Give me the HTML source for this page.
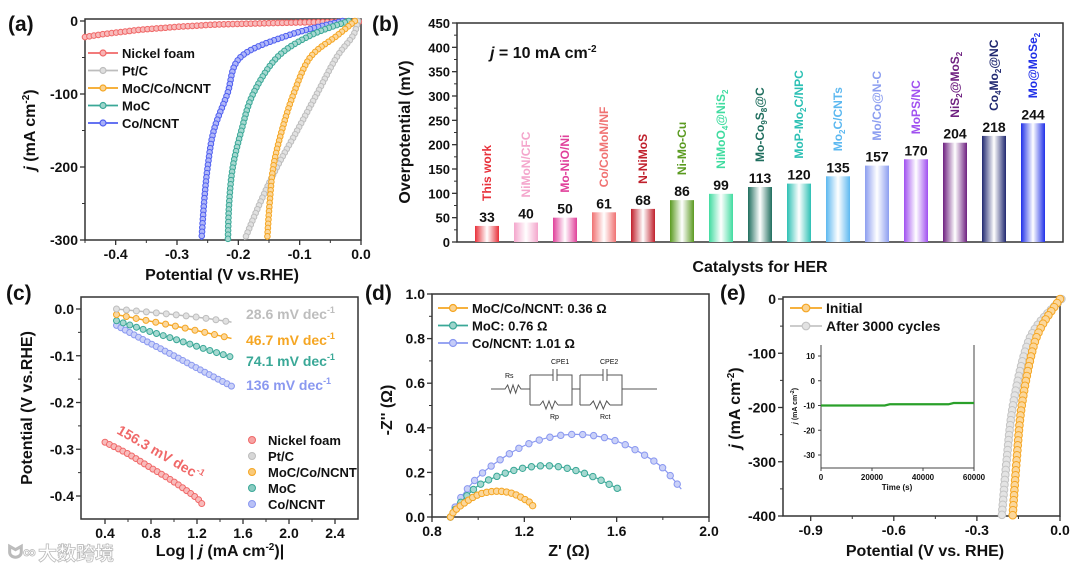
<!DOCTYPE html>
<html><head><meta charset="utf-8"><style>
html,body{margin:0;padding:0;background:#fff;}
svg{display:block;font-family:"Liberation Sans",Arial,sans-serif;font-weight:bold;}
</style></head><body>
<svg id="fig" width="1080" height="573" viewBox="0 0 1080 573" xmlns="http://www.w3.org/2000/svg">
<defs id="defs"></defs>
<text x="38" y="560" font-size="19" fill="#fff" stroke="#bbb" stroke-width="0.8" font-family="'Liberation Sans','Noto Sans CJK SC',sans-serif">大数跨境</text>
<text x="8" y="558" font-size="18" fill="#fff" stroke="#bbb" stroke-width="0.8">ᗢ∞</text>
</svg>
<script>
// ---------- data ----------
// (a) LSV
const aJ = [0,-20,-50,-100,-150,-200,-250,-300];
const aPt = [-0.005,-0.013,-0.04,-0.072,-0.104,-0.137,-0.165,-0.19];
const aMoCCo = [-0.01,-0.039,-0.083,-0.11,-0.129,-0.143,-0.149,-0.153];
const aMoC = [-0.02,-0.083,-0.137,-0.176,-0.195,-0.209,-0.215,-0.217];
const aCo = [-0.03,-0.12,-0.197,-0.218,-0.24,-0.25,-0.256,-0.26];
const aNfV = [-0.45,-0.42,-0.39,-0.36,-0.33,-0.3,-0.27,-0.24,-0.2,-0.15,-0.1,-0.05,0];
const aNfJ = [-22,-18,-15,-12,-10,-8,-6.5,-5,-4,-3,-2,-1.5,-1];
// (b) bars
const bNames = ["This work","NiMoN/CFC","Mo-NiO/Ni","Co/CoMoN/NF","N-NiMoS","Ni-Mo-Cu","NiMoO4@NiS2","Mo-Co9S8@C","MoP-Mo2C/NPC","Mo2C/CNTs","Mo/Co@N-C","MoPS/NC","NiS2@MoS2","Co4Mo2@NC","Mo@MoSe2"];
const bValues = [33,40,50,61,68,86,99,113,120,135,157,170,204,218,244];
const bTicks = [0,50,100,150,200,250,300,350,400,450];
// (c) Tafel
const cX = [0.5,0.75,1.0,1.25,1.5];
const cPt = [0.0,-0.006,-0.012,-0.019,-0.028];
const cMoCCo = [-0.012,-0.024,-0.036,-0.049,-0.063];
const cMoC = [-0.025,-0.045,-0.064,-0.084,-0.103];
const cCo = [-0.035,-0.068,-0.1,-0.133,-0.165];
const cNfX = [0.4,0.6,0.8,1.0,1.2,1.25];
const cNfY = [-0.285,-0.31,-0.34,-0.37,-0.405,-0.42];
const cSlopes = ["28.6","46.7","74.1","136"];
// (d) Nyquist
const dOrX = [0.88,0.9,0.95,1.0,1.05,1.1,1.15,1.2,1.23,1.24];
const dOrY = [0,0.03,0.07,0.1,0.113,0.115,0.105,0.08,0.06,0.04];
const dTeX = [0.88,0.92,1.0,1.1,1.2,1.3,1.4,1.5,1.58,1.62];
const dTeY = [0,0.06,0.14,0.19,0.22,0.23,0.215,0.18,0.14,0.12];
const dBlX = [0.88,0.92,1.0,1.1,1.2,1.3,1.4,1.5,1.6,1.7,1.8,1.88];
const dBlY = [0,0.08,0.18,0.26,0.32,0.355,0.37,0.365,0.34,0.29,0.22,0.125];
// (e) stability
const eJ = [0,-50,-100,-200,-300,-400];
const eInit = [0,-0.066,-0.102,-0.139,-0.157,-0.171];
const eAfter = [0.005,-0.084,-0.128,-0.171,-0.193,-0.21];
const eT = [0,10000,20000,25000,27000,40000,50000,52000,60000];
const eIj = [-10,-10,-10,-10,-9.5,-9.5,-9.5,-9,-9];

// ---------- helpers ----------
const NS="http://www.w3.org/2000/svg";
const svg=document.getElementById('fig');
const defs=document.getElementById('defs');
function el(tag,attrs,name,parent){
  const e=document.createElementNS(NS,tag);
  for(const k in attrs) e.setAttribute(k,attrs[k]);
  
  
  (parent||svg).appendChild(e);
  return e;
}
function tx(str,x,y,size,attrs,name,parent){
  const a=Object.assign({x:x,y:y,'font-size':size,fill:'#111'},attrs||{});
  const e=el('text',a,name,parent);
  e.textContent=str;
  return e;
}
function lin(d0,d1,r0,r1){return v=>r0+(v-d0)*(r1-r0)/(d1-d0);}
function lighten(c,f){const n=parseInt(c.slice(1),16);let r=n>>16,g=(n>>8)&255,b=n&255;r=Math.round(r+(255-r)*f);g=Math.round(g+(255-g)*f);b=Math.round(b+(255-b)*f);return `rgb(${r},${g},${b})`;}
function smoothPath(P){
  let d=`M${P[0][0]},${P[0][1]}`;
  for(let i=0;i<P.length-1;i++){
    const p0=P[i-1]||P[i],p1=P[i],p2=P[i+1],p3=P[i+2]||p2;
    const c1=[p1[0]+(p2[0]-p0[0])/6,p1[1]+(p2[1]-p0[1])/6];
    const c2=[p2[0]-(p3[0]-p1[0])/6,p2[1]-(p3[1]-p1[1])/6];
    d+=` C${c1[0]},${c1[1]} ${c2[0]},${c2[1]} ${p2[0]},${p2[1]}`;
  }
  return d;
}
function axes(p,prefix){
  el('rect',{x:p.x0,y:p.y0,width:p.x1-p.x0,height:p.y1-p.y0,fill:'none',stroke:'#333','stroke-width':1.5},prefix+'-frame');
  p.xt.forEach(v=>{const x=p.xs(v);
    el('line',{x1:x,x2:x,y1:p.y1,y2:p.y1+5,stroke:'#333','stroke-width':1.3},prefix+'-x-tick');
    tx(p.xf(v),x,p.y1+19,p.fs||14,{'text-anchor':'middle'},prefix+'-x-tick-label');});
  (p.xm||[]).forEach(v=>{const x=p.xs(v);
    el('line',{x1:x,x2:x,y1:p.y1,y2:p.y1+3,stroke:'#333','stroke-width':1},prefix+'-x-minor-tick');});
  p.yt.forEach(v=>{const y=p.ys(v);
    el('line',{x1:p.x0-5,x2:p.x0,y1:y,y2:y,stroke:'#333','stroke-width':1.3},prefix+'-y-tick');
    tx(p.yf(v),p.x0-7,y+5,p.fs||14,{'text-anchor':'end'},prefix+'-y-tick-label');});
  (p.ym||[]).forEach(v=>{const y=p.ys(v);
    el('line',{x1:p.x0-3,x2:p.x0,y1:y,y2:y,stroke:'#333','stroke-width':1},prefix+'-y-minor-tick');});
}
function series(xs,ys,X,Y,color,name,opt){
  opt=opt||{};
  const g=el('g',{},name);
  const P=X.map((v,i)=>[xs(v),ys(Y[i])]);
  const pl=el('path',{d:opt.straight?('M'+P.map(p=>p.join(',')).join(' L')):smoothPath(P),fill:'none',stroke:color,'stroke-width':opt.lw||1.5},name+'-line',g);
  if(opt.markers!==false){
    const L=pl.getTotalLength(); const step=opt.step||5.5; const r=opt.r||2.8;
    for(let d=0;d<=L+0.01;d+=step){const q=pl.getPointAtLength(Math.min(d,L));
      el('circle',{cx:q.x,cy:q.y,r:r,fill:lighten(color,0.55),stroke:color,'stroke-width':1},name+'-marker',g);}
  }
  return g;
}
function legendEntry(x,y,color,label,name,len,r,fs){
  const g=el('g',{},name);
  el('line',{x1:x,x2:x+len,y1:y,y2:y,stroke:color,'stroke-width':1.8},name+'-line',g);
  el('circle',{cx:x+len/2,cy:y,r:r||3.5,fill:lighten(color,0.5),stroke:color,'stroke-width':1.2},name+'-marker',g);
  tx(label,x+len+4,y+5,fs||13,{},name+'-label',g);
}
function panelLabel(s,x,y,name){tx(s,x,y,21,{},name);}

// ---------- panel (a) ----------
(function(){
  const xs=lin(-0.45,0,85,361), ys=lin(0,-300,21,240);
  axes({x0:85,x1:361,y0:19,y1:240,xs,ys,xt:[-0.4,-0.3,-0.2,-0.1,0.0],xm:[-0.45,-0.35,-0.25,-0.15,-0.05],
    yt:[0,-100,-200,-300],ym:[-50,-150,-250],xf:v=>v.toFixed(1),yf:v=>String(v)},'a');
  const C={nf:'#f06868',pt:'#bdbdbd',mo:'#f5a623',moc:'#3aa897',co:'#4f5ff0'};
  series(xs,ys,aNfV,aNfJ,C.nf,'a-series-nickel-foam',{step:4.5});
  series(xs,ys,aCo,aJ,C.co,'a-series-co-ncnt',{step:4.2});
  series(xs,ys,aMoC,aJ,C.moc,'a-series-moc',{step:4.2});
  series(xs,ys,aPt,aJ,C.pt,'a-series-pt-c',{step:4.2});
  series(xs,ys,aMoCCo,aJ,C.mo,'a-series-moc-co-ncnt',{step:4.2});
  const lg=[['Nickel foam',C.nf],['Pt/C',C.pt],['MoC/Co/NCNT',C.mo],['MoC',C.moc],['Co/NCNT',C.co]];
  lg.forEach((e,i)=>legendEntry(88,53+i*17.5,e[1],e[0],'a-legend-entry',30,3,13));
  const t=tx('',35,130,16,{'text-anchor':'middle',transform:'rotate(-90 35 130)'},'a-y-axis-title');
  t.innerHTML='<tspan font-style="italic">j</tspan> (mA cm<tspan dy="-6" font-size="10">-2</tspan><tspan dy="6">)</tspan>';
  tx('Potential (V vs.RHE)',222,280,16,{'text-anchor':'middle'},'a-x-axis-title');
  panelLabel('(a)',8,31,'panel-label-a');
})();

// ---------- panel (b) ----------
(function(){
  const ys=lin(0,450,242,23);
  const step=39, x0=487, bw=24;
  axes({x0:457,x1:1063,y0:23,y1:242,xs:v=>v,ys,xt:[],yt:bTicks,ym:[25,75,125,175,225,275,325,375,425],xf:v=>'',yf:v=>String(v),fs:13},'b');
  const colors=['#e8303a','#f4a6cc','#e0409a','#f07272','#c0202c','#5a9a20','#40dca0','#1f6e5e','#2cc0b4','#5cb8f0','#8c9ef0','#a050f0','#6e2080','#202870','#2030e8'];
  const labelsHtml=['This work','NiMoN/CFC','Mo-NiO/Ni','Co/CoMoN/NF','N-NiMoS','Ni-Mo-Cu',
   'NiMoO<tspan font-size="8" dy="3">4</tspan><tspan dy="-3">@NiS</tspan><tspan font-size="8" dy="3">2</tspan>',
   'Mo-Co<tspan font-size="8" dy="3">9</tspan><tspan dy="-3">S</tspan><tspan font-size="8" dy="3">8</tspan><tspan dy="-3">@C</tspan>',
   'MoP-Mo<tspan font-size="8" dy="3">2</tspan><tspan dy="-3">C/NPC</tspan>',
   'Mo<tspan font-size="8" dy="3">2</tspan><tspan dy="-3">C/CNTs</tspan>','Mo/Co@N-C','MoPS/NC',
   'NiS<tspan font-size="8" dy="3">2</tspan><tspan dy="-3">@MoS</tspan><tspan font-size="8" dy="3">2</tspan>',
   'Co<tspan font-size="8" dy="3">4</tspan><tspan dy="-3">Mo</tspan><tspan font-size="8" dy="3">2</tspan><tspan dy="-3">@NC</tspan>',
   'Mo@MoSe<tspan font-size="8" dy="3">2</tspan>'];
  bValues.forEach((v,i)=>{
    const cx=x0+i*step, top=ys(v);
    const gid='bg'+i;
    const gr=el('linearGradient',{id:gid,x1:0,x2:1,y1:0,y2:0},'bar-gradient',defs);
    [[0,colors[i]],[0.5,'#ffffff'],[1,colors[i]]].forEach(s=>el('stop',{offset:s[0],'stop-color':s[1]},'gradient-stop',gr));
    el('rect',{x:cx-bw/2,y:top,width:bw,height:242-top,fill:'url(#'+gid+')'},'bar-'+bNames[i].toLowerCase().replace(/[^a-z0-9]+/g,'-'));
    tx(String(v),cx,top-4,14,{'text-anchor':'middle'},'bar-value-label');
    const ly=top-25;
    const t=tx('',cx+4,ly,12,{fill:colors[i],transform:`rotate(-90 ${cx+4} ${ly})`},'bar-category-label');
    t.innerHTML=labelsHtml[i];
  });
  const t=tx('',490,58,16,{},'b-annotation');
  t.innerHTML='<tspan font-style="italic">j</tspan> = 10 mA cm<tspan dy="-6" font-size="10">-2</tspan>';
  tx('Overpotential (mV)',410,132,16,{'text-anchor':'middle',transform:'rotate(-90 410 132)'},'b-y-axis-title');
  tx('Catalysts for HER',760,272,16,{'text-anchor':'middle'},'b-x-axis-title');
  panelLabel('(b)',372,31,'panel-label-b');
})();

// ---------- panel (c) ----------
(function(){
  const xs=lin(0.4,2.4,105,335), ys=lin(0,-0.4,309,496);
  axes({x0:81,x1:358,y0:297,y1:519,xs,ys,xt:[0.4,0.8,1.2,1.6,2.0,2.4],xm:[0.6,1.0,1.4,1.8,2.2],
    yt:[0,-0.1,-0.2,-0.3,-0.4],ym:[-0.05,-0.15,-0.25,-0.35],xf:v=>v.toFixed(1),yf:v=>v.toFixed(1)},'c');
  const C={nf:'#f06868',pt:'#bdbdbd',mo:'#f5a623',moc:'#3aa897',co:'#8a98f0'};
  series(xs,ys,cNfX,cNfY,C.nf,'c-series-nickel-foam',{step:5,r:3});
  series(xs,ys,cX,cCo,C.co,'c-series-co-ncnt',{step:5,r:3});
  series(xs,ys,cX,cMoC,C.moc,'c-series-moc',{step:7,r:3});
  series(xs,ys,cX,cMoCCo,C.mo,'c-series-moc-co-ncnt',{step:10,r:3});
  series(xs,ys,cX,cPt,C.pt,'c-series-pt-c',{step:10,r:3});
  const sc=[C.pt,C.mo,C.moc,C.co], sy=[319,345,366,390];
  cSlopes.forEach((s,i)=>{const t=tx('',246,sy[i],14,{fill:sc[i]},'c-slope-label');
    t.innerHTML=s+' mV dec<tspan dy="-6" font-size="9">-1</tspan>';});
  const t=tx('',116,433,14,{fill:C.nf,transform:'rotate(30 116 433)'},'c-slope-label-nickel-foam');
  t.innerHTML='156.3 mV dec<tspan dy="-6" font-size="9">-1</tspan>';
  const lg=[['Nickel foam',C.nf],['Pt/C',C.pt],['MoC/Co/NCNT',C.mo],['MoC',C.moc],['Co/NCNT',C.co]];
  lg.forEach((e,i)=>{const y=440+i*16;
    el('circle',{cx:252,cy:y,r:3.5,fill:lighten(e[1],0.4),stroke:e[1]},'c-legend-marker');
    tx(e[0],268,y+5,13,{},'c-legend-label');});
  tx('Potential (V vs.RHE)',32,408,16,{'text-anchor':'middle',transform:'rotate(-90 32 408)'},'c-y-axis-title');
  const xt=tx('',220,556,16,{'text-anchor':'middle'},'c-x-axis-title');
  xt.innerHTML='Log | <tspan font-style="italic">j</tspan> (mA cm<tspan dy="-6" font-size="10">-2</tspan><tspan dy="6">)|</tspan>';
  panelLabel('(c)',6,300,'panel-label-c');
})();

// ---------- panel (d) ----------
(function(){
  const xs=lin(0.8,2.0,432,709), ys=lin(0,1.0,517,294);
  axes({x0:432,x1:709,y0:294,y1:517,xs,ys,xt:[0.8,1.2,1.6,2.0],xm:[1.0,1.4,1.8],
    yt:[0,0.2,0.4,0.6,0.8,1.0],ym:[0.1,0.3,0.5,0.7,0.9],xf:v=>v.toFixed(1),yf:v=>v.toFixed(1)},'d');
  const C={mo:'#f5a623',moc:'#3aa897',co:'#8a98f0'};
  series(xs,ys,dBlX,dBlY,C.co,'d-series-co-ncnt',{step:11,r:3.2,lw:1.2});
  series(xs,ys,dTeX,dTeY,C.moc,'d-series-moc',{step:9,r:3.2,lw:1.2});
  series(xs,ys,dOrX,dOrY,C.mo,'d-series-moc-co-ncnt',{step:5,r:3.2,lw:1.2});
  const lg=[['MoC/Co/NCNT: 0.36 Ω',C.mo],['MoC: 0.76 Ω',C.moc],['Co/NCNT: 1.01 Ω',C.co]];
  lg.forEach((e,i)=>legendEntry(438,308+i*17.5,e[1],e[0],'d-legend-entry',30,3.5,13));
  const g=el('g',{stroke:'#555','stroke-width':1,fill:'none'},'d-equivalent-circuit');
  const zz=(x,y,w)=>`${x},${y} ${x+w/6},${y-4} ${x+w/3},${y+4} ${x+w/2},${y-4} ${x+2*w/3},${y+4} ${x+5*w/6},${y-4} ${x+w},${y}`;
  el('polyline',{points:`491,389 505,389 `+zz(505,389,16)+` 530,389`},'circuit-rs',g);
  el('polyline',{points:'530,375 530,405'},'circuit-wire',g);
  el('path',{d:'M530,375 H553 M557,375 H572 V405 H558 M530,405 H540'},'circuit-wire',g);
  el('path',{d:'M553,369 V381 M557,369 V381'},'circuit-cpe1',g);
  el('polyline',{points:zz(540,405,18)},'circuit-rp',g);
  el('path',{d:'M572,389 H580 M580,375 V405 M580,375 H603 M607,375 H622 V405 H610 M580,405 H590 M622,389 H657'},'circuit-wire',g);
  el('path',{d:'M603,369 V381 M607,369 V381'},'circuit-cpe2',g);
  el('polyline',{points:zz(590,405,20)},'circuit-rct',g);
  tx('CPE1',551,364,7,{'font-weight':'normal'},'circuit-label');
  tx('CPE2',600,364,7,{'font-weight':'normal'},'circuit-label');
  tx('Rs',505,378,7,{'font-weight':'normal'},'circuit-label');
  tx('Rp',550,419,7,{'font-weight':'normal'},'circuit-label');
  tx('Rct',600,419,7,{'font-weight':'normal'},'circuit-label');
  tx("-Z'' (Ω)",392,410,16,{'text-anchor':'middle',transform:'rotate(-90 392 410)'},'d-y-axis-title');
  tx("Z' (Ω)",569,556,16,{'text-anchor':'middle'},'d-x-axis-title');
  panelLabel('(d)',365,300,'panel-label-d');
})();

// ---------- panel (e) ----------
(function(){
  const xs=lin(-1.0,0,783,1060), ys=lin(0,-400,299,516);
  axes({x0:783,x1:1060,y0:297,y1:516,xs,ys,xt:[-0.9,-0.6,-0.3,0.0],xm:[-0.75,-0.45,-0.15],
    yt:[0,-100,-200,-300,-400],ym:[-50,-150,-250,-350],xf:v=>v.toFixed(1),yf:v=>String(v)},'e');
  series(xs,ys,eAfter,eJ,'#c4c4c4','e-series-after-3000-cycles',{step:5,r:3.8});
  series(xs,ys,eInit,eJ,'#f5a623','e-series-initial',{step:5,r:3.8});
  legendEntry(790,308,'#f5a623','Initial','e-legend-initial',32,3.8,14);
  legendEntry(790,326,'#c4c4c4','After 3000 cycles','e-legend-after-3000-cycles',32,3.8,14);
  const ixs=lin(0,60000,821,974), iys=lin(10,-30,356,455);
  el('path',{d:'M821,345 V468 H974 V345',fill:'none',stroke:'#444','stroke-width':1},'e-inset-frame');
  [0,20000,40000,60000].forEach(v=>{const x=ixs(v);
    el('line',{x1:x,x2:x,y1:468,y2:471,stroke:'#444'},'e-inset-x-tick');
    tx(String(v),x,480,8,{'text-anchor':'middle'},'e-inset-x-tick-label');});
  [10,0,-10,-20,-30].forEach(v=>{const y=iys(v);
    el('line',{x1:818,x2:821,y1:y,y2:y,stroke:'#444'},'e-inset-y-tick');
    tx(String(v),815,y+3,8,{'text-anchor':'end'},'e-inset-y-tick-label');});
  series(ixs,iys,eT,eIj,'#2aa02a','e-inset-series',{markers:false,lw:2.2,straight:true});
  tx('Time (s)',897,490,8,{'text-anchor':'middle'},'e-inset-x-axis-title');
  const it=tx('',797,406,7,{'text-anchor':'middle',transform:'rotate(-90 797 406)'},'e-inset-y-axis-title');
  it.innerHTML='<tspan font-style="italic">j</tspan> (mA cm<tspan dy="-3" font-size="5">-2</tspan><tspan dy="3">)</tspan>';
  const t=tx('',740,408,16,{'text-anchor':'middle',transform:'rotate(-90 740 408)'},'e-y-axis-title');
  t.innerHTML='<tspan font-style="italic">j</tspan> (mA cm<tspan dy="-6" font-size="10">-2</tspan><tspan dy="6">)</tspan>';
  tx('Potential (V vs. RHE)',925,556,16,{'text-anchor':'middle'},'e-x-axis-title');
  panelLabel('(e)',720,300,'panel-label-e');
})();
</script>
</body></html>
